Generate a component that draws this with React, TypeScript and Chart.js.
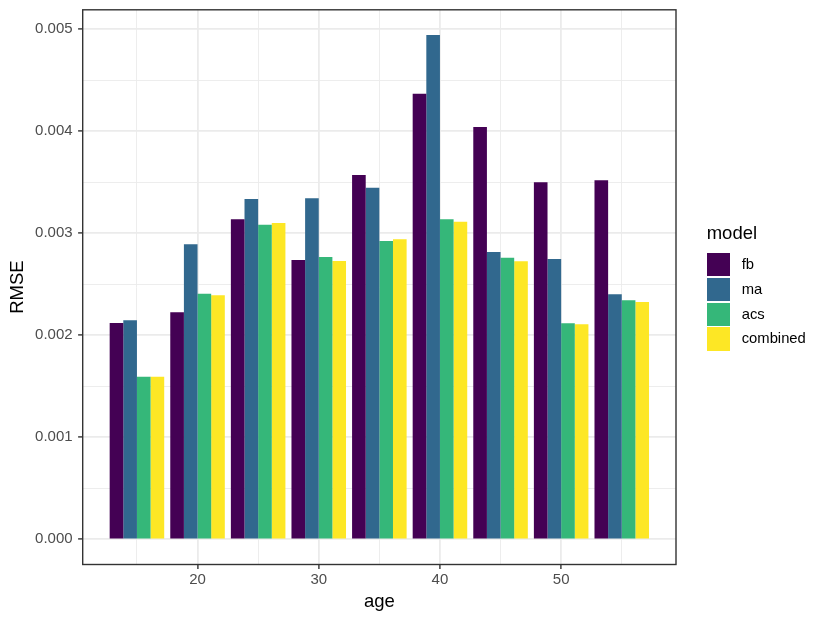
import { useEffect, useRef } from "react";
import { Chart, registerables } from "chart.js";

Chart.register(...registerables);

// RMSE by age group, one series per model
const ages = [15, 20, 25, 30, 35, 40, 45, 50, 55];
const fb = [0.00212, 0.002225, 0.003137, 0.002738, 0.003572, 0.004369, 0.004042, 0.0035, 0.00352];
const ma = [0.002147, 0.002892, 0.003336, 0.003343, 0.003447, 0.004944, 0.002817, 0.002748, 0.002402];
const acs = [0.001594, 0.002408, 0.003084, 0.002768, 0.002925, 0.003137, 0.002761, 0.002118, 0.002343];
const combined = [0.001594, 0.002392, 0.003101, 0.002728, 0.002941, 0.003114, 0.002725, 0.002108, 0.002326];

const models = ["fb", "ma", "acs", "combined"];
const series = [fb, ma, acs, combined];
const colors = ["#440154", "#31688E", "#35B779", "#FDE725"];

const xBreaks = [20, 30, 40, 50];
const xMinor = [15, 25, 35, 45, 55];
const yBreaks = [0, 0.001, 0.002, 0.003, 0.004, 0.005];
const yLabels = ["0.000", "0.001", "0.002", "0.003", "0.004", "0.005"];
const yMinor = [0.0005, 0.0015, 0.0025, 0.0035, 0.0045];

const FONT = "'Liberation Sans', Arial, sans-serif";

const near = (list: number[], v: number) => list.findIndex((b) => Math.abs(b - v) < 1e-9);

// ggplot-style limits: dodge width 0.9 * 5, then 5% expansion
const halfGroup = (0.9 * 5) / 2;
const xLo = ages[0] - halfGroup;
const xHi = ages[ages.length - 1] + halfGroup;
const xPad = 0.05 * (xHi - xLo);
const yTop = Math.max(...series.flat());
const yPad = 0.05 * yTop;

const panelBorder = {
  id: "panelBorder",
  afterDatasetsDraw(chart: Chart) {
    const { ctx, chartArea: a } = chart;
    ctx.save();
    ctx.strokeStyle = "#333333";
    ctx.lineWidth = 1.4;
    ctx.strokeRect(a.left, a.top, a.right - a.left, a.bottom - a.top);
    ctx.restore();
  },
};

function RmseChart() {
  const chartRef = useRef<HTMLCanvasElement | null>(null);

  useEffect(() => {
    const canvas = chartRef.current;
    if (!canvas) return;

    const chart = new Chart(canvas, {
      type: "bar",
      data: {
        datasets: models.map((m, k) => ({
          label: m,
          data: ages.map((a, i) => ({ x: a, y: series[k][i] })),
          backgroundColor: colors[k],
          borderWidth: 0,
          categoryPercentage: 0.9,
          barPercentage: 1,
        })),
      },
      options: {
        animation: false,
        responsive: true,
        maintainAspectRatio: false,
        layout: { padding: { top: 9.8, right: 154, left: 0, bottom: 0 } },
        plugins: {
          legend: { display: false },
          tooltip: { enabled: false },
        },
        scales: {
          x: {
            type: "linear",
            min: xLo - xPad,
            max: xHi + xPad,
            offset: false,
            border: { display: false },
            afterBuildTicks: (scale: any) => {
              scale.ticks = [...xMinor, ...xBreaks].sort((p, q) => p - q).map((v) => ({ value: v }));
            },
            afterFit: (scale: any) => {
              scale.height = 58.5;
              scale.paddingLeft = 0;
              scale.paddingRight = 0;
            },
            grid: {
              offset: false,
              color: "#EBEBEB",
              lineWidth: (c: any) => (near(xBreaks, c.tick?.value) >= 0 ? 1.8 : 0.9),
              tickColor: (c: any) => (near(xBreaks, c.tick?.value) >= 0 ? "#333333" : "rgba(0,0,0,0)"),
              tickWidth: 1.4,
              tickLength: 4.6,
            },
            ticks: {
              autoSkip: false,
              maxRotation: 0,
              padding: 2,
              color: "#4D4D4D",
              font: { family: FONT, size: 15 },
              callback: (v: any) => (near(xBreaks, Number(v)) >= 0 ? String(v) : ""),
            },
            title: {
              display: true,
              text: "age",
              color: "#000000",
              font: { family: FONT, size: 18.5 },
              padding: { top: 0, bottom: 9.9 },
            },
          },
          y: {
            type: "linear",
            min: -yPad,
            max: yTop + yPad,
            border: { display: false },
            afterBuildTicks: (scale: any) => {
              scale.ticks = [...yMinor, ...yBreaks].sort((p, q) => p - q).map((v) => ({ value: v }));
            },
            afterFit: (scale: any) => {
              scale.width = 82.7;
              scale.paddingTop = 0;
              scale.paddingBottom = 0;
            },
            grid: {
              color: "#EBEBEB",
              lineWidth: (c: any) => (near(yBreaks, c.tick?.value) >= 0 ? 1.8 : 0.9),
              tickColor: (c: any) => (near(yBreaks, c.tick?.value) >= 0 ? "#333333" : "rgba(0,0,0,0)"),
              tickWidth: 1.4,
              tickLength: 4.6,
            },
            ticks: {
              autoSkip: false,
              padding: 5.5,
              color: "#4D4D4D",
              font: { family: FONT, size: 15 },
              callback: (v: any) => {
                const k = near(yBreaks, Number(v));
                return k >= 0 ? yLabels[k] : "";
              },
            },
            title: {
              display: true,
              text: "RMSE",
              color: "#000000",
              font: { family: FONT, size: 18.5 },
              padding: { top: 6.5, bottom: 0 },
            },
          },
        },
      },
      plugins: [panelBorder],
    });

    return () => {
      chart.destroy();
    };
  }, []);

  return <canvas ref={chartRef} />;
}

export default function App() {
  return (
    <div style={{ position: "absolute", left: 0, top: 0, width: 830, height: 623, background: "#ffffff" }}>
      <div style={{ position: "absolute", left: 0, top: 0, width: 830, height: 623 }}>
        <RmseChart />
      </div>
      <div
        style={{
          position: "absolute",
          left: 706.7,
          top: 224.3,
          fontFamily: FONT,
          fontSize: 18.5,
          lineHeight: "18.5px",
          color: "#000000",
        }}
      >
        model
      </div>
      {models.map((m, i) => (
        <div
          key={m}
          style={{
            position: "absolute",
            left: 706.7,
            top: 252.7 + i * 24.9,
            height: 23.2,
            display: "flex",
            alignItems: "center",
          }}
        >
          <span style={{ display: "block", width: 23.3, height: 23.2, background: colors[i] }} />
          <span
            style={{
              marginLeft: 11.7,
              fontFamily: FONT,
              fontSize: 14.8,
              lineHeight: "23.2px",
              color: "#000000",
            }}
          >
            {m}
          </span>
        </div>
      ))}
    </div>
  );
}
